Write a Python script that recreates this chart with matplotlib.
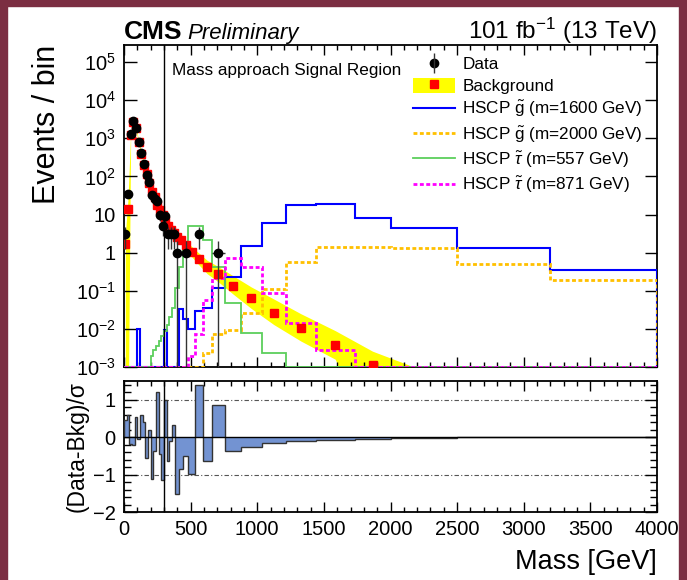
import numpy as np
import matplotlib
matplotlib.use("Agg")
import matplotlib.pyplot as plt
from matplotlib.lines import Line2D
from matplotlib.patches import Patch, Rectangle
from matplotlib.ticker import FixedLocator, LogLocator, MultipleLocator, FuncFormatter, NullFormatter

plt.rcParams["font.family"] = ["Liberation Sans", "DejaVu Sans"]
plt.rcParams["mathtext.fontset"] = "custom"
plt.rcParams["mathtext.rm"] = "Liberation Sans"
plt.rcParams["mathtext.it"] = "Liberation Sans:italic"
plt.rcParams["mathtext.bf"] = "Liberation Sans:bold"

# ---- data ----
bin_edges = [0, 20, 40, 60, 80, 100, 120, 140, 160, 180, 200, 220, 240, 260, 280,
             300, 320, 340, 360, 385, 415, 445, 483, 533, 590, 658, 760, 880,
             1033, 1214, 1440, 1730, 2000, 2500, 3200, 4000]

data_counts = [3, 34, 1300, 2800, 1900, 780, 410, 213, 112, 71, 32, 26, 23, 10,
               5, 9, 3, 3, 3, 1, 0, 1, 0, 3, 0, 1, 0, 0, 0, 0, 0, 0, 0, 0, 0]

bkg = [1.7, 14, 1250, 2750, 1850, 780, 390, 205, 118, 68, 40, 28, 18, 13, 9.5,
       6.8, 5.0, 3.9, 3.2, 2.6, 2.1, 1.6, 1.07, 0.70, 0.43, 0.28, 0.135, 0.064,
       0.026, 0.0105, 0.0038, 0.0011, 0.0003, 0.00006, 0.00001]
bkg_hi = [3.0, 25, 1400, 3000, 2050, 860, 430, 225, 130, 75, 44, 31, 20, 14.5,
          10.6, 7.6, 5.6, 4.4, 3.6, 3.0, 2.4, 1.9, 1.45, 0.98, 0.63, 0.43, 0.245,
          0.125, 0.061, 0.025, 0.0090, 0.0026, 0.0008, 0.0001, 0.00002]
bkg_lo = [1e-5, 1e-5, 1100, 2500, 1650, 700, 350, 185, 106, 61, 36, 25, 16,
          11.5, 8.4, 6.0, 4.4, 3.4, 2.8, 2.25, 1.8, 1.35, 0.78, 0.48, 0.28, 0.17,
          0.081, 0.034, 0.013, 0.0048, 0.0016, 1e-5, 1e-5, 1e-5, 1e-5]

gluino_1600 = [0, 0, 0, 0, 0, 0.01, 0, 0, 0, 0, 0, 0, 0, 0, 0, 0.0093, 0, 0, 0,
               0, 0.033, 0.018, 0.0098, 0.03, 0.036, 0.117, 0.23, 1.45, 5.9, 18,
               19, 8.3, 4.4, 1.32, 0.35]
gluino_2000 = [0, 0, 0, 0, 0, 0, 0, 0, 0, 0, 0, 0, 0, 0, 0, 0, 0, 0, 0, 0, 0, 0,
               0, 0, 0.0024, 0.0072, 0.0095, 0.026, 0.11, 0.58, 1.38, 1.38, 1.3,
               0.50, 0.19]
stau_557 = [0, 0, 0, 0, 0, 0, 0, 0, 0, 0, 0.002, 0.0028, 0.0035, 0.0048, 0.0065,
            0.009, 0.013, 0.02, 0.035, 0.12, 0.41, 1.3, 5.1, 5.1, 2.1, 0.43,
            0.047, 0.0076, 0.0024, 0, 0, 0, 0, 0, 0]
stau_871 = [0, 0, 0, 0, 0, 0, 0, 0, 0, 0, 0, 0, 0, 0, 0, 0, 0, 0, 0, 0, 0, 0,
            0.0019, 0.0075, 0.058, 0.21, 0.72, 0.41, 0.09, 0.014, 0.0028, 0, 0,
            0, 0]

pull = [0.45, 0.59, -0.17, -0.2, 0.55, -0.06, 0.58, 0.4, -0.55, 0.2, -1.11,
        -0.36, 1.21, -0.44, -1.15, 0.98, -0.64, -0.11, 0.32, -1.51, -0.85,
        -0.5, -0.99, 1.39, -0.63, 0.86, -0.37, -0.27, -0.16, -0.11, -0.07,
        -0.04, -0.015, -0.005, 0.0]

signal_labels = [r"HSCP $\tilde{\mathrm{g}}$ (m=1600 GeV)",
                 r"HSCP $\tilde{\mathrm{g}}$ (m=2000 GeV)",
                 r"HSCP $\tilde{\tau}$ (m=557 GeV)",
                 r"HSCP $\tilde{\tau}$ (m=871 GeV)"]
mass_cut = 300
y_floor = 1e-3

edges = np.array(bin_edges, dtype=float)
centers = 0.5 * (edges[1:] + edges[:-1])
half_w = 0.5 * (edges[1:] - edges[:-1])
counts = np.array(data_counts, dtype=float)

fig = plt.figure(figsize=(6.87, 5.80), dpi=100)
W, H = 687.0, 580.0

# maroon frame around the picture
for (x0, y0, w, h) in [(0, 574, 687, 6), (0, 0, 7, 580), (679, 0, 8, 580)]:
    fig.patches.append(Rectangle((x0 / W, y0 / H), w / W, h / H,
                                 transform=fig.transFigure, color="#7b2e42",
                                 zorder=0))

ax = fig.add_axes([124 / W, 1 - 367 / H, 533 / W, 322 / H])
axr = fig.add_axes([124 / W, 1 - 512 / H, 533 / W, 131 / H])

# --- main panel ---
ax.set_yscale("log")
ax.fill_between(centers, bkg_lo, bkg_hi, color="#ffff00", lw=0, zorder=1)

sig_styles = [
    (gluino_1600, "#0000ff", "-", 1.5),
    (gluino_2000, "#ffc000", (0, (1.4, 0.9)), 2.0),
    (stau_557, "#5ccf5c", "-", 1.3),
    (stau_871, "#ff00ff", (0, (1.4, 0.9)), 2.0),
]
for vals, col, ls, lw in sig_styles:
    v = np.clip(np.array(vals, dtype=float), y_floor, None)
    ax.stairs(v, edges, baseline=y_floor, color=col, ls=ls, lw=lw, zorder=3)

ax.plot(centers, bkg, ls="none", marker="s", ms=6, color="#ff0000",
        mec="#ff0000", zorder=4)

m = counts > 0
err_up = np.sqrt(counts[m])
err_dn = np.minimum(np.sqrt(counts[m]), counts[m] - 1e-5)
ax.errorbar(centers[m], counts[m], yerr=[err_dn, err_up], xerr=half_w[m],
            fmt="o", ms=6, color="black", ecolor="#333333", elinewidth=1,
            capsize=0, zorder=5)

ax.axvline(mass_cut, color="black", lw=1, zorder=6)
ax.set_xlim(0, 4000)
ax.set_ylim(y_floor, 2.8e5)

decades = [10.0 ** e for e in range(-3, 6)]
ax.yaxis.set_major_locator(FixedLocator(decades))
ax.yaxis.set_minor_locator(LogLocator(base=10, subs=np.arange(2, 10)))
ax.yaxis.set_minor_formatter(NullFormatter())


def dec_fmt(v, pos):
    e = int(round(np.log10(v)))
    if e == 0:
        return "1"
    if e == 1:
        return "10"
    return r"$10^{%d}$" % e


ax.yaxis.set_major_formatter(FuncFormatter(dec_fmt))
ax.xaxis.set_major_locator(MultipleLocator(500))
ax.xaxis.set_minor_locator(MultipleLocator(100))
ax.set_xticklabels([])
ax.tick_params(which="both", direction="in", top=True, right=True,
               labelsize=14.5, width=1)
ax.tick_params(axis="y", which="major", length=9, pad=6)
ax.tick_params(axis="y", which="minor", length=5)
ax.tick_params(axis="x", which="major", length=7)
ax.tick_params(axis="x", which="minor", length=3.5)
for s in ax.spines.values():
    s.set_linewidth(1.3)

ax.set_ylabel("Events / bin", fontsize=22, loc="top", labelpad=10)

ax.text(0.09, 0.922, "Mass approach Signal Region", transform=ax.transAxes,
        fontsize=12.3, va="center", ha="left")

handles = [
    (Line2D([], [], color="black", marker="o", ms=6, ls="none"),
     Line2D([], [], color="#333333", marker="|", ms=14, mew=1, ls="none")),
    (Patch(facecolor="#ffff00", edgecolor="none"),
     Line2D([], [], color="#ff0000", marker="s", ms=6, ls="none")),
]
labels = ["Data", "Background"]
for (vals, col, ls, lw), lab in zip(sig_styles, signal_labels):
    handles.append(Line2D([], [], color=col, ls=ls, lw=lw))
    labels.append(lab)
ax.legend(handles, labels, loc="upper left", bbox_to_anchor=(0.542, 0.966),
          frameon=False, fontsize=12.3, handlelength=2.45, handleheight=1.0,
          handletextpad=0.45, labelspacing=0.3, borderpad=0, borderaxespad=0)

# --- pull panel ---
axr.stairs(pull, edges, baseline=0, fill=True, color="#7393d2", zorder=2)
axr.stairs(pull, edges, baseline=0, color="#333333", lw=1, zorder=3)
axr.axhline(0, color="black", lw=1, zorder=4)
for yv in (-1, 1):
    axr.axhline(yv, color="#555555", lw=0.8, ls=(0, (4, 2, 1, 2)), zorder=1)
axr.axvline(mass_cut, color="black", lw=1, zorder=5)
axr.set_xlim(0, 4000)
axr.set_ylim(-2, 1.5)
axr.yaxis.set_major_locator(MultipleLocator(1))
axr.yaxis.set_minor_locator(MultipleLocator(0.2))
axr.xaxis.set_major_locator(MultipleLocator(500))
axr.xaxis.set_minor_locator(MultipleLocator(100))
axr.tick_params(which="both", direction="in", top=True, right=True,
                labelsize=14.5, width=1)
axr.tick_params(axis="y", which="major", length=9, pad=6)
axr.tick_params(axis="y", which="minor", length=5)
axr.tick_params(axis="x", which="major", length=7, pad=6)
axr.tick_params(axis="x", which="minor", length=3.5)
for s in axr.spines.values():
    s.set_linewidth(1.3)
axr.set_ylabel("(Data-Bkg)/σ", fontsize=16.5, loc="top", labelpad=3)
axr.set_xlabel("Mass [GeV]", fontsize=19.5, loc="right", labelpad=7)

# --- header ---
fig.text(124 / W, 1 - 39 / H, "CMS", fontsize=19, fontweight="bold",
         ha="left", va="baseline")
fig.text(187 / W, 1 - 39 / H, "Preliminary", fontsize=16, style="italic",
         ha="left", va="baseline")
fig.text(657 / W, 1 - 39 / H, r"101 fb$^{-1}$ (13 TeV)", fontsize=17.5,
         ha="right", va="baseline")

fig.savefig("out.png", dpi=100)
